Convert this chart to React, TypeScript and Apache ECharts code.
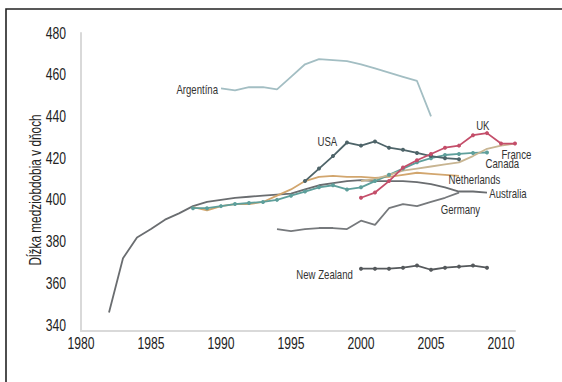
import React, { useEffect, useRef } from 'react';
import * as echarts from 'echarts';

// Series values: start year + annual values
const australiaStart = 1982;
const australiaValues = [346, 372, 382, 386, 390.5, 393.5, 397, 399, 400, 401, 401.5, 402, 402.5, 403, 405, 407, 408, 409, 409.5, 409, 409, 409, 408.5, 407.5, 406, 404, 404, 403.5];

const argentinaStart = 1990;
const argentinaValues = [453.5, 452.5, 454, 454, 453, 459, 465, 467.5, 467, 466.5, 465, 463, 461, 459, 457, 440];

const usaStart = 1996;
const usaValues = [409, 415, 421, 427.5, 426, 428, 425, 424, 422.5, 421, 420, 419.5];

const ukStart = 2000;
const ukValues = [401, 403.5, 409, 415.5, 419, 422, 425, 426, 431, 432, 427, 427];

const franceStart = 2000;
const franceValues = [409, 410, 412, 414, 415, 416, 417, 418, 421, 424.5, 426, 427];

const canadaStart = 1988;
const canadaValues = [396, 396, 397, 398, 398.5, 399, 400, 402, 404, 406, 407, 405, 406, 409, 412, 415, 418, 420, 421.5, 422, 422.5, 422.7];

const netherlandsStart = 1988;
const netherlandsValues = [396.5, 395, 397, 398, 398, 399, 402, 405, 409, 411, 411.5, 411, 411, 410.5, 411, 412, 413, 412.5, 412, 411.5];

const germanyStart = 1994;
const germanyValues = [386, 385, 386, 386.5, 386.5, 386, 390, 388, 396, 398, 397, 399, 401, 403.5];

const nzStart = 2000;
const nzValues = [367, 367, 367, 367.5, 368.5, 366.5, 367.5, 368, 368.5, 367.5];

// Text annotations (country names) and where they sit, in data units
const labelNames = ['Argentína', 'USA', 'UK', 'France', 'Canada', 'Netherlands', 'Australia', 'Germany', 'New Zealand'];
const labelYears = [1988.3, 1997.6, 2008.7, 2011.1, 2010.1, 2008.1, 2010.5, 2007.1, 1997.4];
const labelValues = [452.8, 427.9, 435.6, 421.7, 417.4, 409.8, 403.1, 395.4, 364.4];

const xTicks = [1980, 1985, 1990, 1995, 2000, 2005, 2010];
const yTicks = [340, 360, 380, 400, 420, 440, 460, 480];
const yAxisTitle = 'Dĺžka medziobdobia v dňoch';

const X_MIN = 1980;
const X_MAX = 2011;
const Y_MIN = 337.13;
const Y_MAX = 480;

const toPairs = (start: number, vals: number[]) => vals.map((v, i) => [start + i, v]);

const FONT = 'Liberation Sans, Arial, sans-serif';
const NARROW = 0.76;

export default function App() {
  const ref = useRef<HTMLDivElement>(null);
  useEffect(() => {
    if (!ref.current) return;
    const chart = echarts.init(ref.current, undefined, { renderer: 'svg' });
    const line = (name: string, start: number, vals: number[], color: string, marker: boolean, z = 2) => ({
      type: 'line',
      name,
      data: toPairs(start, vals),
      smooth: false,
      symbol: marker ? 'circle' : 'none',
      symbolSize: 4,
      showSymbol: marker,
      lineStyle: { color, width: 1.8 },
      itemStyle: { color },
      z,
      silent: true,
    });
    chart.setOption({
      animation: false,
      backgroundColor: '#ffffff',
      grid: { left: 81, right: 47, top: 33, bottom: 51, containLabel: false },
      xAxis: {
        type: 'value',
        min: X_MIN,
        max: X_MAX,
        interval: 5,
        axisLine: { show: true, lineStyle: { color: '#d9d9d9', width: 2 } },
        axisTick: { show: false },
        splitLine: { show: false },
        axisLabel: { show: false },
      },
      yAxis: {
        type: 'value',
        min: Y_MIN,
        max: Y_MAX,
        splitNumber: 7,
        axisLine: { show: true, lineStyle: { color: '#d9d9d9', width: 2 } },
        axisTick: { show: false },
        splitLine: { show: false },
        axisLabel: { show: false },
      },
      series: [
        line('Argentina', argentinaStart, argentinaValues, '#a3bec3', false),
        line('Germany', germanyStart, germanyValues, '#76797c', false),
        line('Australia', australiaStart, australiaValues, '#6a6d70', false),
        line('Netherlands', netherlandsStart, netherlandsValues, '#d2a66e', false),
        line('Canada', canadaStart, canadaValues, '#5e9f9b', true),
        line('France', franceStart, franceValues, '#c8b592', false),
        line('USA', usaStart, usaValues, '#4e6469', true, 3),
        line('UK', ukStart, ukValues, '#c44e6a', true, 3),
        line('New Zealand', nzStart, nzValues, '#55595c', true),
      ],
    });

    const px = (x: number, y: number) =>
      chart.convertToPixel({ xAxisIndex: 0, yAxisIndex: 0 }, [x, y]) as number[];
    const origin = px(X_MIN, Y_MIN);
    const texts: any[] = [];
    xTicks.forEach((t) => {
      const p = px(t, Y_MIN);
      texts.push({
        type: 'text', x: p[0], y: origin[1] + 12, scaleX: NARROW, silent: true,
        style: { text: String(t), x: 0, y: 0, align: 'center', verticalAlign: 'middle', fill: '#222', font: `16px ${FONT}` },
      });
    });
    yTicks.forEach((t) => {
      const p = px(X_MIN, t);
      texts.push({
        type: 'text', x: origin[0] - 15, y: p[1], scaleX: NARROW, silent: true,
        style: { text: String(t), x: 0, y: 0, align: 'right', verticalAlign: 'middle', fill: '#222', font: `16px ${FONT}` },
      });
    });
    const midY = (px(X_MIN, Y_MIN)[1] + px(X_MIN, Y_MAX)[1]) / 2;
    texts.push({
      type: 'text', x: origin[0] - 46, y: midY + 8, rotation: Math.PI / 2, scaleX: 0.74, silent: true,
      style: { text: yAxisTitle, x: 0, y: 0, align: 'center', verticalAlign: 'middle', fill: '#222', font: `16px ${FONT}` },
    });
    labelNames.forEach((n, i) => {
      const p = px(labelYears[i], labelValues[i]);
      texts.push({
        type: 'text', x: p[0], y: p[1], scaleX: 0.8, silent: true, z: 10,
        style: { text: n, x: 0, y: 0, align: 'center', verticalAlign: 'middle', fill: '#333', font: `12px ${FONT}` },
      });
    });
    texts.push({
      type: 'rect', x: 6, y: 9, silent: true,
      shape: { x: 0, y: 0, width: 620, height: 420 },
      style: { fill: 'none', stroke: '#222', lineWidth: 1.6 },
    });
    chart.setOption({ graphic: texts });
    return () => chart.dispose();
  }, []);
  return (
    <div
      ref={ref}
      style={{ position: 'fixed', left: 0, top: 0, width: 562, height: 382, background: '#fff' }}
    />
  );
}
